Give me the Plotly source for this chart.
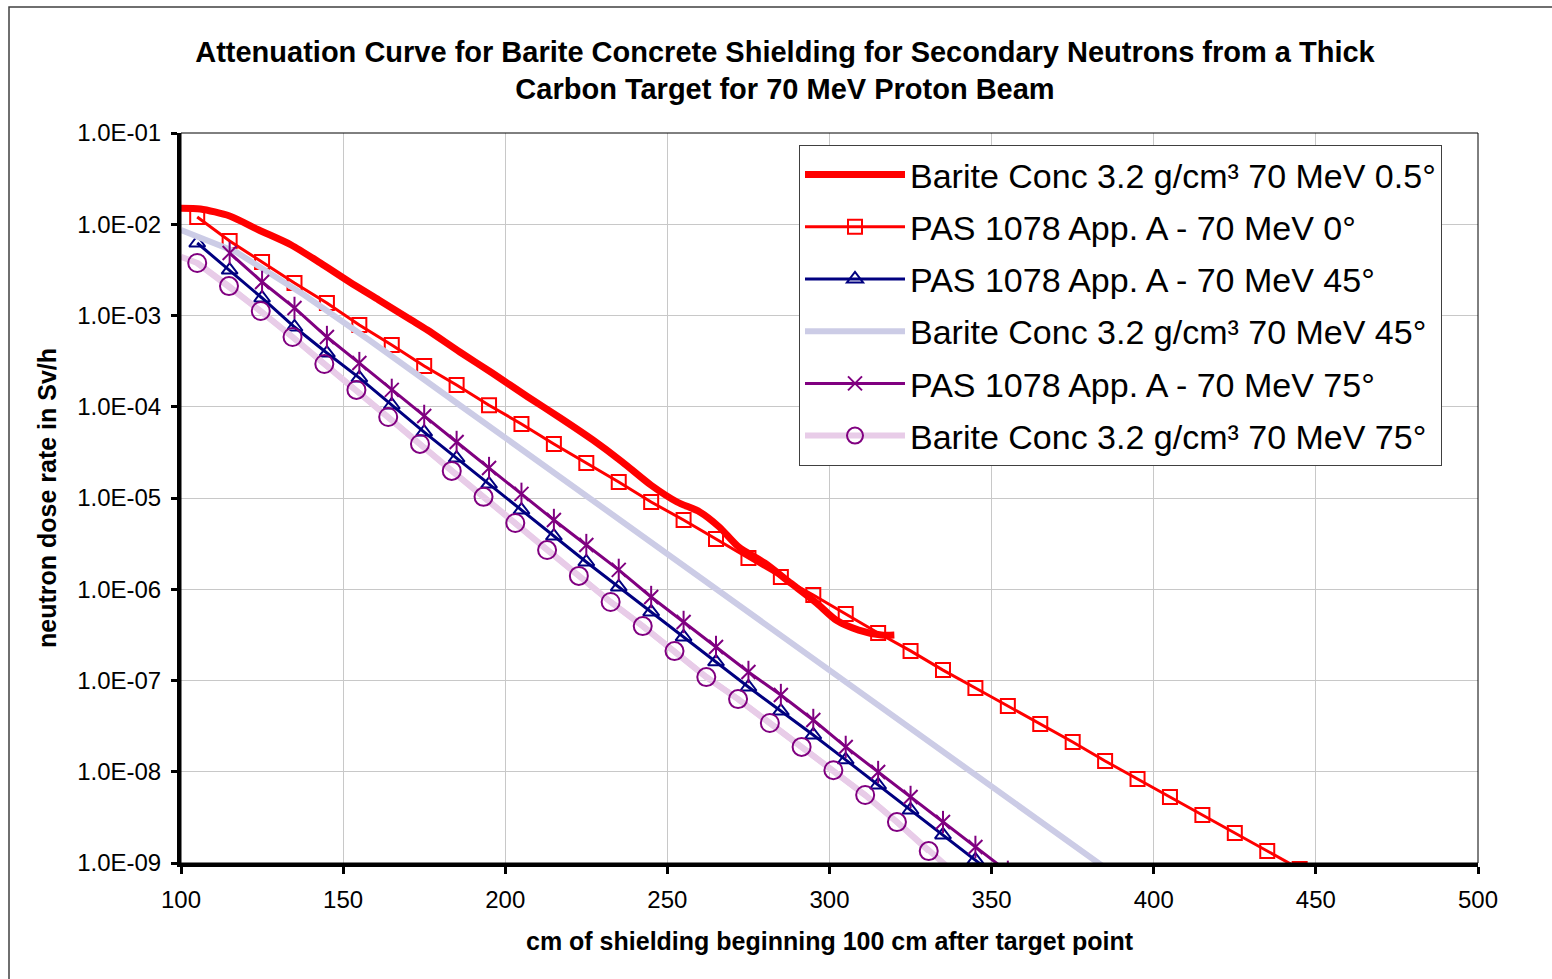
import plotly.graph_objects as go

FONT = "Liberation Sans, Arial, sans-serif"

# ---------------- data ----------------
barite05_x = [100, 106, 115, 124, 134, 143, 152, 161, 171, 176, 186, 196, 207, 217, 227,
              236, 245, 253, 260, 266, 272, 280, 288, 296, 302, 309, 316, 320]
barite05_y = [1.50e-2, 1.47e-2, 1.23e-2, 8.65e-3, 5.93e-3, 3.76e-3, 2.33e-3, 1.48e-3, 8.93e-4,
              6.93e-4, 3.98e-4, 2.34e-4, 1.28e-4, 7.53e-5, 4.33e-5, 2.50e-5, 1.38e-5, 9.04e-6,
              7.03e-6, 4.81e-6, 2.90e-6, 1.94e-6, 1.17e-6, 7.06e-7, 4.60e-7, 3.57e-7, 3.15e-7, 3.15e-7]

pas0_x = [105, 115, 125, 135, 145, 155, 165, 175, 185, 195, 205, 215, 225, 235, 245, 255, 265,
          275, 285, 295, 305, 315, 325, 335, 345, 355, 365, 375, 385, 395, 405, 415, 425, 435, 445]
pas0_y = [1.20e-2, 6.55e-3, 3.86e-3, 2.27e-3, 1.37e-3, 7.87e-4, 4.75e-4, 2.80e-4, 1.73e-4,
          1.04e-4, 6.47e-5, 3.91e-5, 2.42e-5, 1.50e-5, 9.03e-6, 5.74e-6, 3.56e-6, 2.20e-6,
          1.36e-6, 8.65e-7, 5.36e-7, 3.32e-7, 2.11e-7, 1.30e-7, 8.27e-8, 5.26e-8, 3.34e-8,
          2.12e-8, 1.31e-8, 8.34e-9, 5.29e-9, 3.36e-9, 2.13e-9, 1.35e-9, 8.6e-10]

pas45_x = [105, 115, 125, 135, 145, 155, 165, 175, 185, 195, 205, 215, 225, 235, 245, 255, 265,
           275, 285, 295, 305, 315, 325, 335, 345, 355]
pas45_y = [6.23e-3, 3.15e-3, 1.555e-3, 7.48e-4, 3.88e-4, 2.07e-4, 1.045e-4, 5.28e-5, 2.74e-5,
           1.42e-5, 7.38e-6, 3.83e-6, 1.99e-6, 1.06e-6, 5.64e-7, 3.00e-7, 1.60e-7, 8.49e-8,
           4.63e-8, 2.53e-8, 1.35e-8, 7.16e-9, 3.81e-9, 2.03e-9, 1.08e-9, 5.7e-10]

barite45_x = [100, 117, 138, 158, 186, 207, 228, 247, 262, 283, 301, 322, 342, 363, 383, 390]
barite45_y = [8.65e-3, 4.96e-3, 1.68e-3, 5.40e-4, 1.04e-4, 3.04e-5, 8.9e-6, 2.92e-6, 1.21e-6,
              3.52e-7, 1.22e-7, 3.57e-8, 1.10e-8, 3.24e-9, 1.0e-9, 6.6e-10]

pas75_x = [115, 125, 135, 145, 155, 165, 175, 185, 195, 205, 215, 225, 235, 245, 255, 265, 275,
           285, 295, 305, 315, 325, 335, 345, 355]
pas75_y = [4.84e-3, 2.33e-3, 1.21e-3, 5.81e-4, 3.01e-4, 1.53e-4, 7.93e-5, 4.11e-5, 2.13e-5,
           1.11e-5, 5.74e-6, 3.05e-6, 1.63e-6, 8.22e-7, 4.38e-7, 2.33e-7, 1.24e-7, 6.93e-8,
           3.69e-8, 1.87e-8, 9.93e-9, 5.29e-9, 2.81e-9, 1.50e-9, 8.0e-10]

barite75_mk_x = [105, 114.8, 124.6, 134.4, 144.2, 154.1, 163.9, 173.7, 183.5, 193.3, 203.1, 212.9,
                 222.7, 232.5, 242.4, 252.2, 262.0, 271.8, 281.6, 291.4, 301.2, 311.0, 320.8, 330.6]
barite75_mk_y = [3.76e-3, 2.10e-3, 1.12e-3, 5.81e-4, 2.94e-4, 1.53e-4, 7.72e-5, 3.91e-5, 1.98e-5,
                 1.03e-5, 5.32e-6, 2.69e-6, 1.40e-6, 7.25e-7, 3.95e-7, 2.10e-7, 1.09e-7, 6.26e-8,
                 3.42e-8, 1.87e-8, 1.04e-8, 5.56e-9, 2.81e-9, 1.35e-9]
barite75_line_x = [100] + barite75_mk_x + [340]
barite75_line_y = [4.4e-3] + barite75_mk_y + [7.0e-10]

x_ticks = [100, 150, 200, 250, 300, 350, 400, 450, 500]
y_ticks = [1e-9, 1e-8, 1e-7, 1e-6, 1e-5, 1e-4, 1e-3, 1e-2, 1e-1]
y_ticktext = ["1.0E-09", "1.0E-08", "1.0E-07", "1.0E-06", "1.0E-05", "1.0E-04",
              "1.0E-03", "1.0E-02", "1.0E-01"]

names = ["Barite Conc 3.2 g/cm³ 70 MeV 0.5°",
         "PAS 1078 App. A - 70 MeV 0°",
         "PAS 1078 App. A - 70 MeV 45°",
         "Barite Conc 3.2 g/cm³ 70 MeV 45°",
         "PAS 1078 App. A - 70 MeV 75°",
         "Barite Conc 3.2 g/cm³ 70 MeV 75°"]

RED = "#FF0000"
NAVY = "#000080"
PURPLE = "#800080"
LAVENDER = "#CCCCE6"
PINK = "#E8CCE8"

fig = go.Figure()

fig.add_trace(go.Scatter(x=barite05_x, y=barite05_y, mode="lines", name=names[0],
                         legendgroup="g1",
                         line=dict(color=RED, width=7, shape="spline", smoothing=0.7)))
fig.add_trace(go.Scatter(x=pas0_x, y=pas0_y, mode="lines+markers", name=names[1],
                         legendgroup="g2",
                         line=dict(color=RED, width=3),
                         marker=dict(symbol="square-open", size=14, color=RED,
                                     line=dict(width=2, color=RED))))
fig.add_trace(go.Scatter(x=pas45_x, y=pas45_y, mode="lines+markers", name=names[2],
                         legendgroup="g3",
                         line=dict(color=NAVY, width=3),
                         marker=dict(symbol="triangle-up-open", size=14, color=NAVY,
                                     line=dict(width=2, color=NAVY))))
fig.add_trace(go.Scatter(x=barite45_x, y=barite45_y, mode="lines", name=names[3],
                         legendgroup="g4",
                         line=dict(color=LAVENDER, width=6)))
fig.add_trace(go.Scatter(x=pas75_x, y=pas75_y, mode="lines+markers", name=names[4],
                         legendgroup="g5",
                         line=dict(color=PURPLE, width=3),
                         marker=dict(symbol="x-thin-open", size=14, color=PURPLE,
                                     line=dict(width=2, color=PURPLE))))
fig.add_trace(go.Scatter(x=pas75_x, y=pas75_y, mode="markers", showlegend=False,
                         legendgroup="g5", hoverinfo="skip",
                         marker=dict(symbol="line-ns-open", size=16, color=PURPLE,
                                     line=dict(width=2, color=PURPLE))))
fig.add_trace(go.Scatter(x=barite75_line_x, y=barite75_line_y, mode="lines", showlegend=False,
                         legendgroup="g6", hoverinfo="skip",
                         line=dict(color=PINK, width=6)))
fig.add_trace(go.Scatter(x=barite75_mk_x, y=barite75_mk_y, mode="lines+markers", name=names[5],
                         legendgroup="g6",
                         line=dict(color=PINK, width=6),
                         marker=dict(symbol="circle-open", size=18, color=PURPLE,
                                     line=dict(width=2, color=PURPLE))))

fig.update_layout(
    width=1552, height=979, autosize=False,
    margin=dict(l=181, r=74, t=133, b=116),
    paper_bgcolor="white", plot_bgcolor="white",
    font=dict(family=FONT, color="black"),
    title=dict(
        text="Attenuation Curve for Barite Concrete Shielding for Secondary Neutrons from a Thick<br>"
             "Carbon Target for 70 MeV Proton Beam",
        x=0.5058, xanchor="center", xref="container",
        y=1 - 61.5 / 979, yanchor="middle", yref="container",
        font=dict(family=FONT, size=29, color="black", weight="bold"),
    ),
    legend=dict(
        x=(799 - 181) / 1297, y=(863 - 145) / 730, xanchor="left", yanchor="top",
        bgcolor="white", bordercolor="#404040", borderwidth=1,
        font=dict(family=FONT, size=34, color="black"),
        traceorder="grouped", tracegroupgap=5, itemwidth=100,
    ),
    xaxis=dict(
        range=[100, 500], tickvals=x_ticks, ticktext=[str(v) for v in x_ticks],
        showgrid=True, gridcolor="#C8C8C8", gridwidth=1, zeroline=False,
        showline=True, linecolor="black", linewidth=4,
        ticks="outside", ticklen=7, tickwidth=3, tickcolor="black",
        tickfont=dict(family=FONT, size=24, color="black"), ticklabelstandoff=5,
        title=dict(text="cm of shielding beginning 100 cm after target point",
                   font=dict(family=FONT, size=25, color="black", weight="bold"),
                   standoff=22),
    ),
    yaxis=dict(
        type="log", range=[-9, -1], tickvals=y_ticks, ticktext=y_ticktext,
        showgrid=True, gridcolor="#C8C8C8", gridwidth=1, zeroline=False,
        showline=True, linecolor="black", linewidth=4,
        ticks="outside", ticklen=6, tickwidth=3, tickcolor="black",
        tickfont=dict(family=FONT, size=24, color="black"), ticklabelstandoff=5,
        title=dict(text="neutron dose rate in Sv/h",
                   font=dict(family=FONT, size=25, color="black", weight="bold"),
                   standoff=14),
    ),
    shapes=[
        dict(type="rect", xref="paper", yref="paper", x0=0, x1=1, y0=0, y1=1,
             line=dict(color="black", width=1), layer="above"),
        dict(type="rect", xref="paper", yref="paper",
             x0=(9 - 181) / 1297, x1=1.2, y0=-0.3, y1=(863 - 7) / 730,
             line=dict(color="#404040", width=1.5), layer="below"),
    ],
)

fig.write_html("out.html")
